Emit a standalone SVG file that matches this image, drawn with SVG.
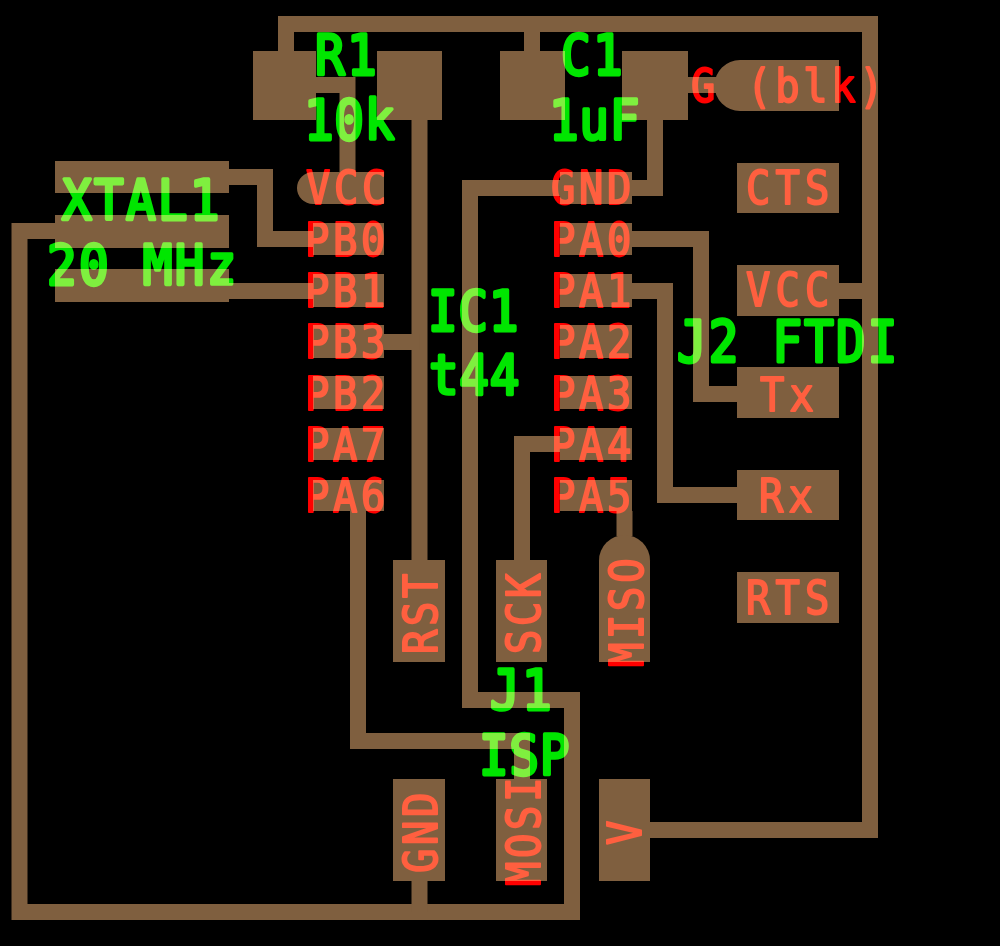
<svg xmlns="http://www.w3.org/2000/svg" width="1000" height="947" viewBox="0 0 1000 947">
<style>
.pad{fill:#7f5f3f}
.tr{fill:none;stroke:#7f5f3f;stroke-width:16;stroke-linejoin:miter;stroke-linecap:butt}
text{font-family:"DejaVu Sans Mono","Liberation Mono",monospace;font-weight:normal;mix-blend-mode:screen;stroke-linejoin:round}
.r{fill:#ff0000;stroke:#ff0000;stroke-width:2px;font-size:46px;letter-spacing:4.200px}
.w{letter-spacing:5.800px}
.g{fill:#00e600;stroke:#00e600;stroke-width:3.600px;font-size:56px;letter-spacing:2.600px}
.t{letter-spacing:.8px}
</style>
<rect width="1000" height="946" fill="#000"/>
<g id="connectors">
<path class="tr" d="M286 52V24H870V830H650"/>
<path class="tr" d="M532 24V52"/>
<path class="tr" d="M838 291H870"/>
<path class="tr" d="M315 85H347.500V172"/>
<path class="tr" d="M419.500 119V560"/>
<path class="tr" d="M384 342H419.500"/>
<path class="tr" d="M655 119V188H470V700H572V912H19.500V231H60"/>
<path class="tr" d="M419.500 881V912"/>
<path class="tr" d="M688 85H730"/>
<path class="tr" d="M229 177H265V239H313"/>
<path class="tr" d="M229 291H313"/>
<path class="tr" d="M632 239H701V394H737"/>
<path class="tr" d="M632 291H665V495H737"/>
<path class="tr" d="M560 444H522V560"/>
<path class="tr" d="M624.500 511V536"/>
<path class="tr" d="M358 511V741H522V780"/>
</g>
<g id="R1"><rect class="pad" x="253" y="51" width="63" height="69"/><rect class="pad" x="377" y="51" width="65" height="69"/><text class="g" transform="matrix(.88 0 0 1 315 74)">R1</text><text class="g t" transform="matrix(.88 0 0 1 304 139)">10k</text></g>
<g id="C1"><rect class="pad" x="500" y="51" width="65" height="69"/><rect class="pad" x="622" y="51" width="66" height="69"/><text class="g" transform="matrix(.88 0 0 1 561 74)">C1</text><text class="g t" transform="matrix(.88 0 0 1 549 139)">1uF</text></g>
<g id="XTAL1"><rect class="pad" x="55" y="161" width="174" height="32"/><rect class="pad" x="55" y="215" width="174" height="33"/><rect class="pad" x="55" y="269" width="174" height="33"/><text class="g" transform="matrix(.88 0 0 1 62 219)">XTAL1</text><text class="g" transform="matrix(.88 0 0 1 47 284)">20 MHz</text></g>
<g id="IC1">
<path class="pad" d="M384 172V204H313A16 16 0 0 1 313 172Z"/>
<rect class="pad" x="313" y="223" width="71" height="32"/><rect class="pad" x="313" y="274" width="71" height="33"/><rect class="pad" x="313" y="325" width="71" height="33"/><rect class="pad" x="313" y="376" width="71" height="33"/><rect class="pad" x="313" y="428" width="71" height="32"/><rect class="pad" x="313" y="480" width="71" height="31"/>
<rect class="pad" x="560" y="172" width="72" height="32"/><rect class="pad" x="560" y="223" width="72" height="32"/><rect class="pad" x="560" y="274" width="72" height="33"/><rect class="pad" x="560" y="325" width="72" height="33"/><rect class="pad" x="560" y="376" width="72" height="33"/><rect class="pad" x="560" y="428" width="72" height="32"/><rect class="pad" x="560" y="480" width="72" height="31"/>
<text class="r" transform="matrix(.88 0 0 1 306 204)">VCC</text><text class="r" transform="matrix(.88 0 0 1 305 256)">PB0</text><text class="r" transform="matrix(.88 0 0 1 305 307)">PB1</text><text class="r" transform="matrix(.88 0 0 1 305 358)">PB3</text><text class="r" transform="matrix(.88 0 0 1 305 410)">PB2</text><text class="r" transform="matrix(.88 0 0 1 305 461)">PA7</text><text class="r" transform="matrix(.88 0 0 1 305 512)">PA6</text>
<text class="r" transform="matrix(.88 0 0 1 551 204)">GND</text><text class="r" transform="matrix(.88 0 0 1 551 256)">PA0</text><text class="r" transform="matrix(.88 0 0 1 551 307)">PA1</text><text class="r" transform="matrix(.88 0 0 1 551 358)">PA2</text><text class="r" transform="matrix(.88 0 0 1 551 410)">PA3</text><text class="r" transform="matrix(.88 0 0 1 551 461)">PA4</text><text class="r" transform="matrix(.88 0 0 1 551 512)">PA5</text>
<text class="g t" transform="matrix(.88 0 0 1 428 330)">IC1</text><text class="g t" transform="matrix(.88 0 0 1 429 394)">t44</text>
</g>
<g id="J2">
<path class="pad" d="M839 60V111H740A25.500 25.500 0 0 1 740 60Z"/>
<rect class="pad" x="737" y="163" width="102" height="50"/><rect class="pad" x="737" y="265" width="102" height="51"/><rect class="pad" x="737" y="367" width="102" height="51"/><rect class="pad" x="737" y="470" width="102" height="50"/><rect class="pad" x="737" y="572" width="102" height="51"/>
<text class="r" transform="matrix(.88 0 0 1 691 102)">G (blk)</text><text class="r w" transform="matrix(.88 0 0 1 746 204)">CTS</text><text class="r w" transform="matrix(.88 0 0 1 746 306)">VCC</text><text class="r w" transform="matrix(.88 0 0 1 760 411)">Tx</text><text class="r w" transform="matrix(.88 0 0 1 759 512)">Rx</text><text class="r w" transform="matrix(.88 0 0 1 746 614)">RTS</text>
<text class="g" transform="matrix(.88 0 0 1 677 362) scale(.995 1)">J2 FTDI</text>
</g>
<g id="J1">
<rect class="pad" x="393" y="560" width="52" height="102"/><rect class="pad" x="496" y="560" width="51" height="102"/>
<path class="pad" d="M599 662V560.500A25.500 25.500 0 0 1 650 560.500V662Z"/>
<rect class="pad" x="393" y="779" width="52" height="102"/><rect class="pad" x="496" y="779" width="51" height="102"/><rect class="pad" x="599" y="779" width="51" height="102"/>
<text class="r" transform="translate(437 654) rotate(-90) scale(.88 1)">RST</text>
<text class="r" transform="translate(540 654) rotate(-90) scale(.88 1)">SCK</text>
<text class="r" transform="translate(643 667) rotate(-90) scale(.88 1)">MISO</text>
<text class="r" transform="translate(437 873) rotate(-90) scale(.88 1)">GND</text>
<text class="r" transform="translate(540 886) rotate(-90) scale(.88 1)">MOSI</text>
<text class="r" transform="translate(641 845) rotate(-90) scale(.88 1)">V</text>
<text class="g" transform="matrix(.88 0 0 1 490 709)">J1</text><text class="g t" transform="matrix(.88 0 0 1 479 774)">ISP</text>
</g>
</svg>
